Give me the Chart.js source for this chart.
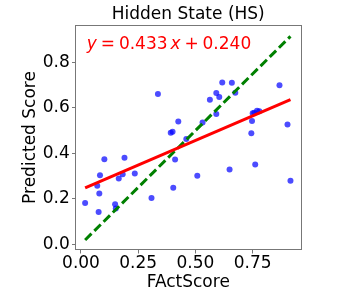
<!DOCTYPE html>
<html>
<head>
<meta charset="utf-8">
<script src="https://cdn.jsdelivr.net/npm/chart.js@4/dist/chart.umd.min.js"></script>
<style>
  body { margin: 0; background: #fff; }
  canvas { display: block; }
</style>
</head>
<body>
<canvas id="canvas" width="340" height="300"></canvas>
<script>
// FActScore (x) vs predicted score (y), one entry per point
var factScore = [0.018, 0.071, 0.083, 0.080, 0.077, 0.102, 0.149, 0.152, 0.165, 0.182,
                 0.190, 0.235, 0.308, 0.336, 0.392, 0.400, 0.403, 0.411, 0.425, 0.460,
                 0.508, 0.531, 0.563, 0.591, 0.591, 0.604, 0.617, 0.649, 0.659, 0.674,
                 0.744, 0.747, 0.750, 0.757, 0.761, 0.769, 0.779, 0.867, 0.902, 0.915];
var predicted = [0.181, 0.257, 0.303, 0.223, 0.141, 0.374, 0.176, 0.157, 0.289, 0.308,
                 0.380, 0.311, 0.203, 0.661, 0.490, 0.495, 0.248, 0.373, 0.540, 0.463,
                 0.301, 0.536, 0.636, 0.573, 0.665, 0.648, 0.712, 0.329, 0.711, 0.667,
                 0.488, 0.542, 0.576, 0.578, 0.351, 0.587, 0.585, 0.700, 0.527, 0.279];

var slope = 0.433;
var intercept = 0.240;

var xTicks = [0, 0.25, 0.5, 0.75];
var yTicks = [0, 0.2, 0.4, 0.6, 0.8];

var titleText = 'Hidden State (HS)';
var xLabel = 'FActScore';
var yLabel = 'Predicted Score';

var FONT = 'DejaVu Sans';
var xMin = Math.min.apply(null, factScore);
var xMax = Math.max.apply(null, factScore);

var points = [];
factScore.forEach(function (v, i) {
  points.push({ x: v, y: predicted[i] });
});
var fitLine = [
  { x: xMin, y: slope * xMin + intercept },
  { x: xMax, y: slope * xMax + intercept }
];
var idLine = [ { x: xMin, y: xMin }, { x: xMax, y: xMax } ];

// box around the plot area (all four spines)
var framePlugin = {
  id: 'frame',
  afterDraw: function (chart) {
    var a = chart.chartArea, ctx = chart.ctx;
    ctx.save();
    ctx.strokeStyle = '#777';
    ctx.lineWidth = 1;
    ctx.strokeRect(Math.round(a.left) - 0.5, Math.round(a.top) + 0.5,
                   Math.round(a.right) - Math.round(a.left) + 1, Math.round(a.bottom) - Math.round(a.top) - 1);
    ctx.restore();
  }
};

// regression equation, mathtext style: italic y and x
var eqPlugin = {
  id: 'equation',
  afterDatasetsDraw: function (chart) {
    var a = chart.chartArea, ctx = chart.ctx;
    var size = 17;
    var x = a.left + 0.05 * (a.right - a.left);
    var y = a.bottom - 0.95 * (a.bottom - a.top) + 0.729 * size;
    var thick = 0.23 * size, thin = 0.167 * size;
    var parts = [
      ['italic', 'y', thick], ['normal', '=', thick], ['normal', slope.toFixed(3), thin],
      ['italic', 'x', thick], ['normal', '+', thick], ['normal', intercept.toFixed(3), 0]
    ];
    ctx.save();
    ctx.fillStyle = '#ff0000';
    ctx.textBaseline = 'alphabetic';
    ctx.textAlign = 'left';
    parts.forEach(function (p) {
      ctx.font = p[0] + ' ' + size + 'px "' + FONT + '"';
      ctx.fillText(p[1], x, y);
      x += ctx.measureText(p[1]).width + p[2];
    });
    ctx.restore();
  }
};

var ctx = document.getElementById('canvas').getContext('2d');
var chart = new Chart(ctx, {
  type: 'scatter',
  data: {
    datasets: [{
      type: 'line',
      data: fitLine,
      borderColor: '#ff0000',
      borderWidth: 3,
      pointRadius: 0,
      fill: false,
      order: 0
    }, {
      type: 'line',
      data: idLine,
      borderColor: '#008000',
      borderWidth: 3,
      borderDash: [9, 4],
      pointRadius: 0,
      fill: false,
      order: 1
    }, {
      data: points,
      backgroundColor: 'rgba(0,0,255,0.7)',
      borderWidth: 0,
      pointRadius: 3,
      order: 2
    }]
  },
  options: {
    responsive: false,
    animation: false,
    devicePixelRatio: 1,
    layout: { padding: { left: 0, right: 39, top: 0, bottom: 0 } },
    plugins: {
      legend: { display: false },
      tooltip: { enabled: false },
      title: {
        display: true,
        fullSize: false,
        text: titleText,
        color: '#000',
        font: { family: FONT, size: 17, weight: 'normal' },
        padding: { top: 4.6, bottom: 0 }
      }
    },
    scales: {
      x: {
        type: 'linear',
        min: -0.024,
        max: 0.961,
        afterBuildTicks: function (s) { s.ticks = xTicks.map(function (v) { return { value: v }; }); },
        afterFit: function (s) { s.height = 50; },
        ticks: {
          color: '#000',
          padding: 0,
          maxRotation: 0,
          font: { family: FONT, size: 17 },
          callback: function (v) { return v.toFixed(2); }
        },
        grid: { drawOnChartArea: false, drawTicks: true, tickLength: 3.5, tickColor: '#777' },
        border: { display: false },
        title: {
          display: true,
          text: xLabel,
          color: '#000',
          font: { family: FONT, size: 17 },
          padding: { top: 0, bottom: 7 }
        }
      },
      y: {
        type: 'linear',
        min: -0.026,
        max: 0.965,
        afterBuildTicks: function (s) { s.ticks = yTicks.map(function (v) { return { value: v }; }); },
        afterFit: function (s) { s.width = 75.5; },
        ticks: {
          color: '#000',
          padding: 2.3,
          font: { family: FONT, size: 17 },
          callback: function (v) { return v.toFixed(1); }
        },
        grid: { drawOnChartArea: false, drawTicks: true, tickLength: 3.5, tickColor: '#777' },
        border: { display: false },
        title: {
          display: true,
          text: yLabel,
          color: '#000',
          font: { family: FONT, size: 17 },
          padding: { top: 20, bottom: 0 }
        }
      }
    }
  },
  plugins: [framePlugin, eqPlugin]
});
</script>
</body>
</html>
